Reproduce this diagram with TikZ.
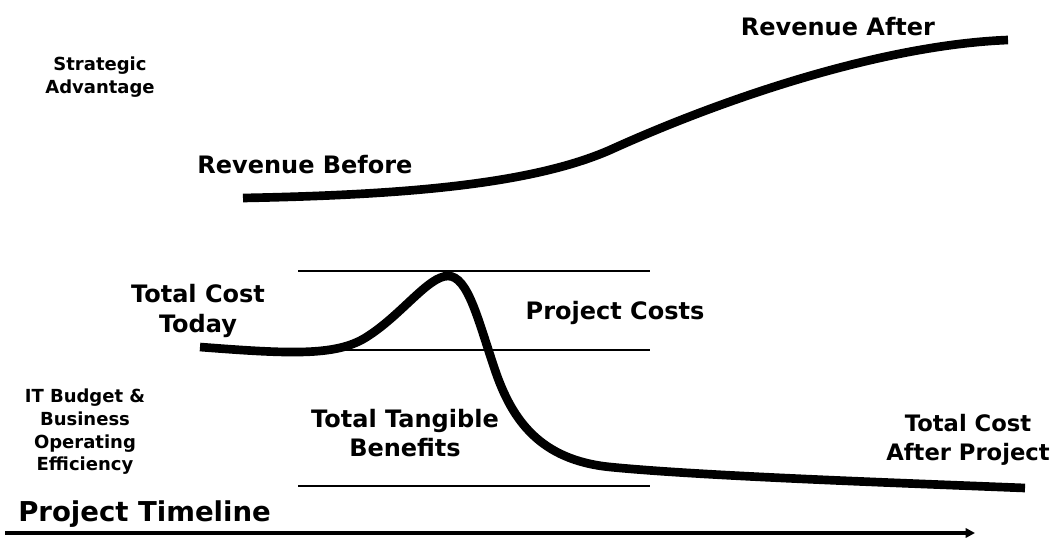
\documentclass[tikz,border=0pt]{standalone}
\usepackage{fontspec}
\setmainfont{DejaVu Sans}
\newfontfamily\condfont[FakeStretch=1.12]{DejaVu Sans Condensed}
\usetikzlibrary{arrows.meta}
\begin{document}
\begin{tikzpicture}[x=0.75pt,y=-0.75pt,
  lbl/.style={font=\bfseries\fontsize{18}{22}\selectfont,align=center},
  small/.style={font=\bfseries\fontsize{13.5}{17}\selectfont,align=center},
  curve/.style={line width=6.5pt}]
  \useasboundingbox (0,0) rectangle (1052,538);
  % revenue and cost curves
  \draw[curve] (243,198) .. controls (400,195) and (530,185) .. (610,150)
    .. controls (720,100) and (880,45) .. (1008,40);
  \draw[curve] (200,347) .. controls (290,354) and (335,356) .. (365,338)
    .. controls (401,316) and (428,276) .. (448,276)
    .. controls (468,276) and (478,320) .. (495,370)
    .. controls (512,420) and (540,460) .. (610,467)
    .. controls (700,476) and (900,483) .. (1025,488);
  % band lines
  \foreach \y in {271,350,486} \draw[line width=1.5pt] (298,\y) -- (650,\y);
  % timeline
  \coordinate (t0) at (5,533);
  \coordinate (t1) at (975,533);
  \draw[line width=2.8pt,-{Triangle[length=7pt,width=7pt]}] (t0) -- (t1);
  \node[font=\condfont\bfseries\fontsize{20.5}{24}\selectfont,anchor=south west,inner sep=0pt] (tl) at (18,528) {Project Timeline};
  % labels
  \node[lbl] (ra) at (838,27) {Revenue After};
  \node[lbl] (rb) at (305,165) {Revenue Before};
  \node[small] (sa) at (100,77) {Strategic\\Advantage};
  \node[lbl] (ct) at (198,311) {Total Cost\\Today};
  \node[lbl] (pc) at (615,313) {Project Costs};
  \node[small] (it) at (85,432) {IT Budget \&\\Business\\Operating\\Efficiency};
  \node[lbl] (tb) at (405,433) {Total Tangible\\Benefits};
  \node[lbl,font=\bfseries\fontsize{17}{22}\selectfont,inner sep=1pt] (ca) at (968,440) {Total Cost\\After Project};
\end{tikzpicture}
\end{document}
